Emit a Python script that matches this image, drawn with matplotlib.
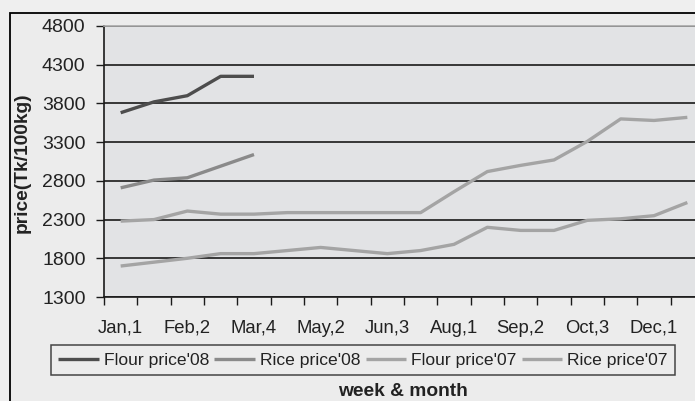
import numpy as np
import matplotlib.pyplot as plt
from matplotlib.patches import Rectangle

plt.rcParams['font.family'] = ['Liberation Sans', 'DejaVu Sans']

# weekly categories (only every second one is labelled)
semanas = ['Jan,1', '', 'Feb,2', '', 'Mar,4', '', 'May,2', '', 'Jun,3', '',
           'Aug,1', '', 'Sep,2', '', 'Oct,3', '', 'Dec,1', '']

harina_08 = [3680, 3820, 3900, 4150, 4150]
arroz_08 = [2710, 2810, 2840, 2990, 3140]
harina_07 = [2280, 2300, 2410, 2370, 2370, 2390, 2390, 2390, 2390, 2390,
             2660, 2920, 3000, 3070, 3310, 3600, 3580, 3620]
arroz_07 = [1700, 1750, 1800, 1860, 1860, 1900, 1940, 1900, 1860, 1900,
            1980, 2200, 2160, 2160, 2290, 2310, 2350, 2520]

series = [
    ("Flour price'08", harina_08, '#4d4d4d'),
    ("Rice price'08", arroz_08, '#8a8a8a'),
    ("Flour price'07", harina_07, '#a4a4a4'),
    ("Rice price'07", arroz_07, '#a4a4a4'),
]

W, H = 695, 401
fig = plt.figure(figsize=(W / 100, H / 100), dpi=100, facecolor='#efefef')

# marco del gráfico
fig.add_artist(Rectangle((10 / W, -0.2), 1.2, 1.2 - 13 / H, transform=fig.transFigure,
                         facecolor='#ececec', edgecolor='black', linewidth=1.3, zorder=0))

ax = fig.add_axes([104 / W, 104 / H, 600 / W, 271 / H])
ax.set_facecolor('#e2e3e5')

x = np.arange(len(semanas))
for nombre, valores, color in series:
    ax.plot(x[:len(valores)], valores, color=color, linewidth=2.4, label=nombre,
            solid_capstyle='butt', zorder=3)

ax.set_xlim(-0.5, len(semanas) - 0.5)
ax.set_ylim(1300, 4800)
ax.set_yticks(np.arange(1300, 4801, 500))
ax.yaxis.grid(True, color='#1a1a1a', linewidth=1.2)
ax.set_axisbelow(True)

# marcas entre categorías, etiquetas en el centro
ax.set_xticks(np.arange(-0.5, len(semanas), 1.0))
ax.set_xticklabels([])
ax.set_xticks(x, minor=True)
ax.set_xticklabels(semanas, minor=True)
ax.tick_params(axis='x', which='major', direction='out', length=6, width=1, color='#1a1a1a')
ax.tick_params(axis='x', which='minor', length=0, pad=16.5, labelsize=13.3, labelcolor='#222222')
ax.tick_params(axis='y', direction='out', length=5.8, width=1, color='#1a1a1a',
               pad=7.5, labelsize=14, labelcolor='#222222')

for lado in ['left', 'bottom']:
    ax.spines[lado].set_color('#1a1a1a')
    ax.spines[lado].set_linewidth(1.2)
ax.spines['top'].set_color('#a8a8a8')
ax.spines['top'].set_linewidth(1.2)
ax.spines['right'].set_visible(False)

fig.text(22 / W, 1 - 163 / H, 'price(Tk/100kg)', rotation=90, ha='center', va='center',
         fontsize=13.8, fontweight='bold', color='#222222')
fig.text(403 / W, 1 - 391 / H, 'week & month', ha='center', va='center',
         fontsize=13.8, fontweight='bold', color='#222222')

leg = fig.legend(loc='center', bbox_to_anchor=(363 / W, 1 - 360 / H), ncol=4,
                 fontsize=12.6, frameon=True, fancybox=False, handlelength=2.3,
                 handletextpad=0.3, columnspacing=0.3, borderpad=0.4,
                 labelcolor='#222222')
leg.get_frame().set_edgecolor('#1a1a1a')
leg.get_frame().set_facecolor('#ececec')
leg.get_frame().set_linewidth(1.1)

fig.savefig('out.png', dpi=100, facecolor=fig.get_facecolor())
